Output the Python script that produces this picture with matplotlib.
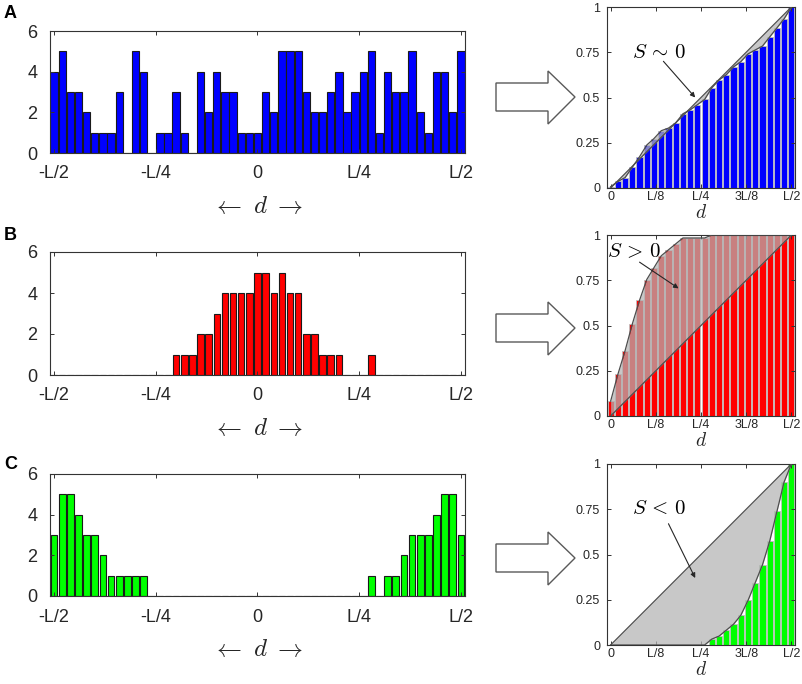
import numpy as np
import matplotlib
matplotlib.use('Agg')
from matplotlib import pyplot as plt
from matplotlib.patches import Polygon

plt.rcParams['font.family'] = ['Liberation Sans', 'DejaVu Sans']
plt.rcParams['mathtext.fontset'] = 'cm'

# bin index k: bin centre at k*L/50, k = -25 .. 25
bins = np.arange(-25, 26)

counts_A = [4, 5, 3, 3, 2, 1, 1, 1, 3, 0, 5, 4, 0, 1, 1, 3, 1, 0, 4, 2, 4, 3, 3, 1, 1,
            1,
            3, 2, 5, 5, 5, 3, 2, 2, 3, 4, 2, 3, 4, 5, 1, 4, 3, 3, 5, 2, 1, 4, 4, 2, 5]
counts_B = [0, 0, 0, 0, 0, 0, 0, 0, 0, 0, 0, 0, 0, 0, 0, 1, 1, 1, 2, 2, 3, 4, 4, 4, 4,
            5,
            5, 4, 5, 4, 4, 2, 2, 1, 1, 1, 0, 0, 0, 1, 0, 0, 0, 0, 0, 0, 0, 0, 0, 0, 0]
counts_C = [3, 5, 5, 4, 3, 3, 2, 1, 1, 1, 1, 1, 0, 0, 0, 0, 0, 0, 0, 0, 0, 0, 0, 0, 0,
            0,
            0, 0, 0, 0, 0, 0, 0, 0, 0, 0, 0, 0, 0, 1, 0, 1, 1, 2, 3, 3, 3, 4, 5, 5, 3]

left_ticks = [-25, -12.5, 0, 12.5, 25]
left_labels = ['-L/2', '-L/4', '0', 'L/4', 'L/2']
right_ticks = [0, 6.25, 12.5, 18.75, 25]
right_labels = ['0', 'L/8', 'L/4', '3L/8', 'L/2']

panels = [
    ('A', counts_A, (0, 0, 1), 0.9, r'$S\,\sim\,0$', (6.65, 0.75), (7.3, 0.70), (11.7, 0.50)),
    ('B', counts_B, (1, 0, 0), 0.8, r'$S\,>\,0$', (3.3, 0.91), (4.0, 0.85), (9.4, 0.705)),
    ('C', counts_C, (0, 1, 0), 0.82, r'$S\,<\,0$', (6.65, 0.755), (8.0, 0.67), (11.7, 0.37)),
]

W, H = 803, 684
left_rows = [(31, 153), (252, 375), (474, 596)]
right_rows = [(7, 188), (235, 416), (464, 645)]
label_y = [18, 240, 469]
arrow_dy = [0, 231, 461]

fig = plt.figure(figsize=(W / 100, H / 100), dpi=100)


def px_axes(l, t, r, b):
    return fig.add_axes([l / W, 1 - b / H, (r - l) / W, (b - t) / H])


def folded_cdf(counts):
    c = np.asarray(counts, float)
    mid = len(c) // 2
    folded = c[mid:].copy()
    folded[1:] += c[:mid][::-1]
    return np.cumsum(folded) / folded.sum()


def matlab_style(ax, fs, xpad, ypad):
    for s in ax.spines.values():
        s.set_color('0.2')
        s.set_linewidth(0.8)
    ax.tick_params(direction='in', top=True, right=True, length=3,
                   width=0.7, color='0.2', labelcolor='0.15', labelsize=fs)
    ax.tick_params(axis='x', pad=xpad)
    ax.tick_params(axis='y', pad=ypad)


for i, (name, counts, col, bw, stext, tpos, atail, ahead) in enumerate(panels):
    # histogram of d
    ax = px_axes(50, left_rows[i][0], 465, left_rows[i][1])
    ax.bar(bins, counts, width=bw, color=col, edgecolor='0.1', linewidth=0.8)
    ax.set_xlim(-25.5, 25.5)
    ax.set_ylim(0, 6)
    ax.set_yticks([0, 2, 4, 6])
    ax.set_xticks(left_ticks)
    ax.set_xticklabels(left_labels)
    matlab_style(ax, 13, 9, 9)
    ax.set_xlabel(r'$\leftarrow\ d\ \rightarrow$', fontsize=18, labelpad=8, color='0.15')

    # cumulative distribution of |d|
    cdf = folded_cdf(counts)
    j = np.arange(len(cdf))
    diag = j / j[-1]
    rx = px_axes(607, right_rows[i][0], 795, right_rows[i][1])
    rx.bar(j, cdf, width=0.85, color=col, edgecolor='0.75', linewidth=0.6, zorder=1)
    rx.fill_between(j, diag, cdf, interpolate=True, color='0.7', alpha=0.72,
                    linewidth=0, zorder=2)
    rx.plot(j, diag, color='0.3', lw=0.9, zorder=3)
    rx.plot(j, cdf, color='0.3', lw=0.9, zorder=3)
    rx.set_xlim(-0.5, 25.5)
    rx.set_ylim(0, 1)
    rx.set_xticks(right_ticks)
    rx.set_xticklabels(right_labels)
    rx.set_yticks([0, 0.25, 0.5, 0.75, 1])
    rx.set_yticklabels(['0', '0.25', '0.5', '0.75', '1'])
    matlab_style(rx, 9, 2, 5)
    rx.set_xlabel('$d$', fontsize=14, labelpad=1, color='0.15')
    rx.text(tpos[0], tpos[1], stext, fontsize=15, ha='center', va='center', zorder=5)
    rx.annotate('', xy=ahead, xytext=atail, zorder=5,
                arrowprops=dict(arrowstyle='-|>', color='0.15', lw=0.8,
                                mutation_scale=7, shrinkA=0, shrinkB=0))

    fig.text(4 / W, 1 - label_y[i] / H, name, fontsize=13, fontweight='bold',
             va='baseline', ha='left')

    dy = arrow_dy[i]
    pts = [(496, 83), (548, 83), (548, 71), (575, 97), (548, 124), (548, 111), (496, 111)]
    fig.patches.append(Polygon([(x / W, 1 - (y + dy) / H) for x, y in pts], closed=True,
                               transform=fig.transFigure, facecolor='white',
                               edgecolor='0.35', linewidth=1.0))

fig.savefig('out.png', dpi=100)
